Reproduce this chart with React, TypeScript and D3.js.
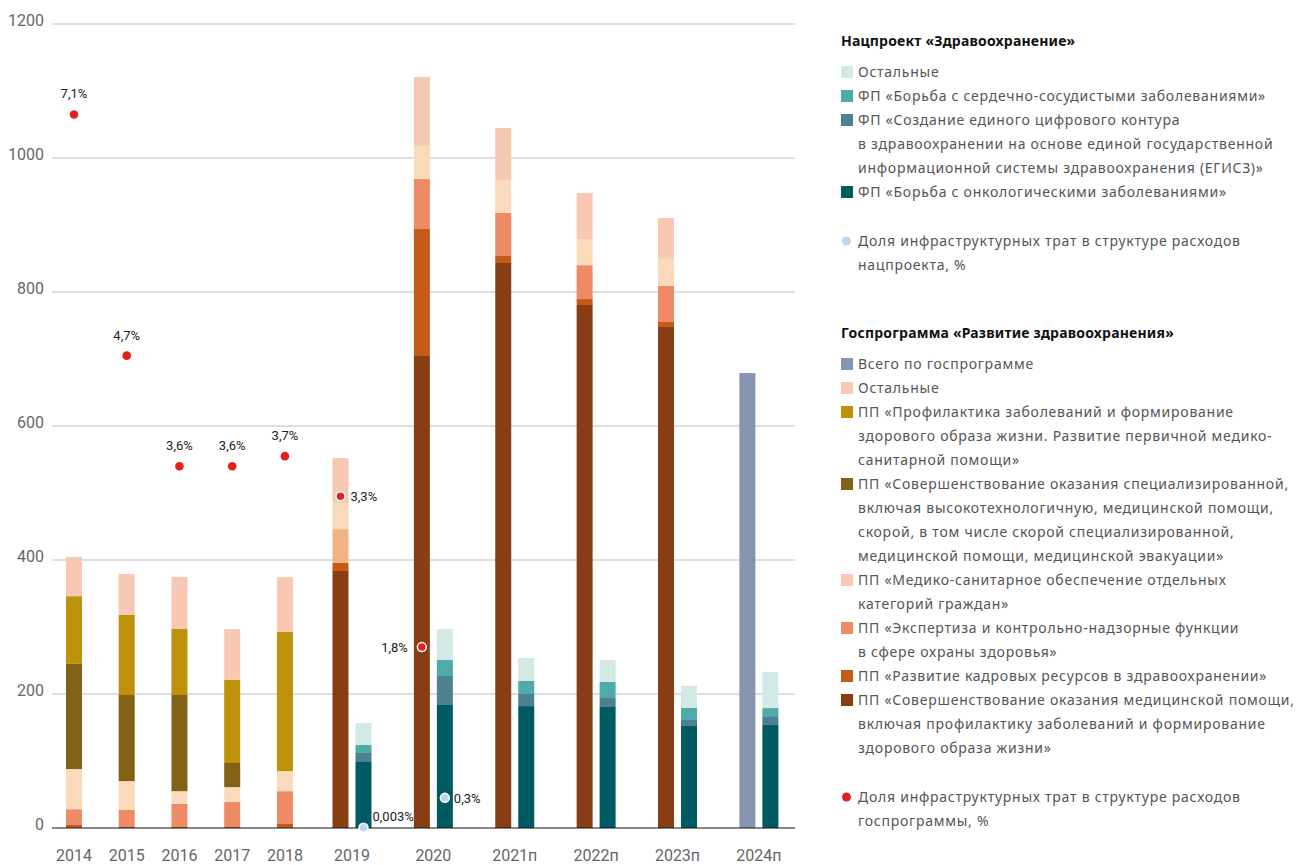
import React from "react";
import * as d3 from "d3";

// ---------- DATA ----------
const categories = ["2014", "2015", "2016", "2017", "2018", "2019", "2020", "2021п", "2022п", "2023п", "2024п"];
// whether a category has the second (нацпроект) bar
const hasNats = [false, false, false, false, false, true, true, true, true, true, true];

// Госпрограмма series, bottom to top (млрд руб.)
const gpMedPomosch = [0, 0, 0, 0, 0, 383.6, 704.5, 843.3, 780.6, 747.8, 0];
const gpKadry = [4.5, 1.5, 1.5, 1.5, 6, 12, 189.5, 10.4, 8.9, 7.4, 0];
const gpExpertiza = [23.5, 25.5, 34.5, 37.5, 49, 50.5, 74.6, 64.3, 50.5, 53.8, 0];
const gpMedSanit = [60, 43, 19, 22, 30, 39, 49.4, 49, 39, 40.6, 0];
const gpSpecPomosch = [157, 128.5, 143.5, 36, 0, 0, 0, 0, 0, 0, 0];
const gpProfilaktika = [101, 119.5, 98.5, 124, 207.5, 0, 0, 0, 0, 0, 0];
const gpOther = [58.5, 61, 77.6, 76, 82, 67, 103, 77.8, 68.7, 60.8, 0];
const gpTotal = [0, 0, 0, 0, 0, 0, 0, 0, 0, 0, 679];

// Нацпроект series, bottom to top
const npOnko = [0, 0, 0, 0, 0, 98.5, 183.6, 182, 180.6, 152.2, 153.7];
const npDigital = [0, 0, 0, 0, 0, 13.5, 43.3, 18, 13.4, 9, 12];
const npCardio = [0, 0, 0, 0, 0, 12, 23.8, 19.4, 24, 18, 13.3];
const npOther = [0, 0, 0, 0, 0, 32.7, 46.3, 34.3, 32.7, 33, 53.8];

// Shares of infrastructure spending, %
const gpInfraPct = [7.1, 4.7, 3.6, 3.6, 3.7, 3.3, 1.8, null, null, null, null];
const npInfraPct = [null, null, null, null, null, 0.003, 0.3, null, null, null, null];

const yTicks = [0, 200, 400, 600, 800, 1000, 1200];

// ---------- STYLE ----------
const gpSeries = [
  { key: "medPomosch", values: gpMedPomosch, color: "#873e15" },
  { key: "kadry", values: gpKadry, color: "#c55a19" },
  { key: "expertiza", values: gpExpertiza, color: "#ef8a67" },
  { key: "medSanit", values: gpMedSanit, color: "#fadabb" },
  { key: "spec", values: gpSpecPomosch, color: "#836117" },
  { key: "profil", values: gpProfilaktika, color: "#be910a" },
  { key: "other", values: gpOther, color: "#f9c8b2" },
  { key: "total", values: gpTotal, color: "#8696b0" },
];
// the 2019 "экспертиза" segment is drawn in a lighter orange in the reference
const cellColorOverride: Record<string, string> = { "expertiza|2019": "#f3b283" };

const npSeries = [
  { key: "onko", values: npOnko, color: "#005a64" },
  { key: "digital", values: npDigital, color: "#4e8190" },
  { key: "cardio", values: npCardio, color: "#4faaa8" },
  { key: "other", values: npOther, color: "#d3e9e6" },
];

const gpLabelPos = ["top", "top", "top", "top", "top", "right", "left"];
const npLabelPos = ["", "", "", "", "", "rightUp", "right"];

const legendNats = [
  { color: "#d3e9e6", lines: ["Остальные"] },
  { color: "#4faaa8", lines: ["ФП «Борьба с сердечно-сосудистыми заболеваниями»"] },
  {
    color: "#4e8190",
    lines: [
      "ФП «Создание единого цифрового контура",
      "в здравоохранении на основе единой государственной",
      "информационной системы здравоохранения (ЕГИСЗ)»",
    ],
  },
  { color: "#005a64", lines: ["ФП «Борьба с онкологическими заболеваниями»"] },
];
const legendNatsDot = { color: "#bdd7ee", lines: ["Доля инфраструктурных трат в структуре расходов", "нацпроекта, %"] };

const legendGos = [
  { color: "#8696b0", lines: ["Всего по госпрограмме"] },
  { color: "#f9c8b2", lines: ["Остальные"] },
  {
    color: "#be910a",
    lines: ["ПП «Профилактика заболеваний и формирование", "здорового образа жизни. Развитие первичной медико-", "санитарной помощи»"],
  },
  {
    color: "#836117",
    lines: [
      "ПП «Совершенствование оказания специализированной,",
      "включая высокотехнологичную, медицинской помощи,",
      "скорой, в том числе скорой специализированной,",
      "медицинской помощи, медицинской эвакуации»",
    ],
  },
  { color: "#f9c8b2", lines: ["ПП «Медико-санитарное обеспечение отдельных", "категорий граждан»"] },
  { color: "#ef8a67", lines: ["ПП «Экспертиза и контрольно-надзорные функции", "в сфере охраны здоровья»"] },
  { color: "#c55a19", lines: ["ПП «Развитие кадровых ресурсов в здравоохранении»"] },
  {
    color: "#873e15",
    lines: [
      "ПП «Совершенствование оказания медицинской помощи,",
      "включая профилактику заболеваний и формирование",
      "здорового образа жизни»",
    ],
  },
];
const legendGosDot = { color: "#e3201b", lines: ["Доля инфраструктурных трат в структуре расходов", "госпрограммы, %"] };

const W = 1306;
const H = 865;
const AXIS_FONT = "Roboto, 'Noto Sans', sans-serif";
const LEG_FONT = "'Noto Sans', 'Open Sans', sans-serif";

export default function App() {
  // y scales
  const y = d3.scaleLinear().domain([0, 1200]).range([828, 24]);
  const yPct = d3.scaleLinear().domain([0, 8]).range([828, 24]);

  // x: each category occupies a slot; double-bar slots are wider
  const slotW = hasNats.map((d) => (d ? 1.543 : 1));
  const cum = d3.cumsum(slotW);
  const total = cum[cum.length - 1];
  const xu = d3.scaleLinear().domain([0, total]).range([47.6, 47.6 + total * 52.74]);
  const center = categories.map((_, i) => xu(cum[i] - slotW[i] / 2));
  const barW = 16;
  const off = 11.5;
  const gpX = categories.map((_, i) => (hasNats[i] ? center[i] - off : center[i]));
  const npX = categories.map((_, i) => center[i] + off);

  const stackOf = (series: { key: string; values: number[] }[]) => {
    const rows = categories.map((c, i) => {
      const r: Record<string, number | string> = { cat: c };
      series.forEach((s) => (r[s.key] = s.values[i]));
      return r;
    });
    return d3.stack<any>().keys(series.map((s) => s.key))(rows as any);
  };
  const gpStack = stackOf(gpSeries);
  const npStack = stackOf(npSeries);

  const fmtPct = (v: number) => String(v).replace(".", ",") + "%";

  const legendBlock = (
    x: number,
    title: string,
    titleY: number,
    firstY: number,
    items: { color: string; lines: string[] }[],
    dot: { color: string; lines: string[] },
    dotGap: number
  ) => {
    const out: React.ReactNode[] = [];
    out.push(
      <text key={title} x={x} y={titleY + 5} fontFamily={LEG_FONT} fontWeight={700} fontSize={14} fill="#111" letterSpacing={0.2}>
        {title}
      </text>
    );
    let row = firstY;
    items.forEach((it, k) => {
      out.push(<rect key={title + "s" + k} x={x} y={row - 6} width={12} height={12} fill={it.color} />);
      it.lines.forEach((ln, j) => {
        out.push(
          <text key={title + "t" + k + "_" + j} x={x + 17} y={row + 24 * j + 5} fontFamily={LEG_FONT} fontSize={14} fill="#555" letterSpacing={0.75}>
            {ln}
          </text>
        );
      });
      row += 24 * it.lines.length;
    });
    row += dotGap;
    out.push(<circle key={title + "dot"} cx={x + 5.5} cy={row} r={4.5} fill={dot.color} />);
    dot.lines.forEach((ln, j) => {
      out.push(
        <text key={title + "dt" + j} x={x + 17} y={row + 24 * j + 5} fontFamily={LEG_FONT} fontSize={14} fill="#555" letterSpacing={0.75}>
          {ln}
        </text>
      );
    });
    return out;
  };

  return (
    <svg width={W} height={H} style={{ position: "absolute", left: 0, top: 0, background: "#fff" }}>
      {/* grid */}
      {yTicks.map((t) => (
        <g key={"g" + t}>
          {t !== 0 && <line x1={52} x2={795} y1={y(t)} y2={y(t)} stroke="#bdbdbd" strokeWidth={1.2} />}
          <text x={44} y={y(t) + 2} textAnchor="end" fontFamily={AXIS_FONT} fontSize={16} fill="#666">
            {t}
          </text>
        </g>
      ))}

      {/* госпрограмма bars */}
      {gpStack.map((layer, si) =>
        layer.map((d, i) => {
          const h = y(d[0]) - y(d[1]);
          if (h <= 0) return null;
          const key = gpSeries[si].key + "|" + categories[i];
          return (
            <rect
              key={"gp" + key}
              x={gpX[i] - barW / 2}
              y={y(d[1])}
              width={barW}
              height={h}
              fill={cellColorOverride[key] || gpSeries[si].color}
            />
          );
        })
      )}

      {/* нацпроект bars */}
      {npStack.map((layer, si) =>
        layer.map((d, i) => {
          const h = y(d[0]) - y(d[1]);
          if (h <= 0 || !hasNats[i]) return null;
          return (
            <rect key={"np" + si + "_" + i} x={npX[i] - barW / 2} y={y(d[1])} width={barW} height={h} fill={npSeries[si].color} />
          );
        })
      )}

      {/* zero axis */}
      <line x1={52} x2={795} y1={y(0)} y2={y(0)} stroke="#111" strokeWidth={1.2} />

      {/* x labels */}
      {categories.map((c, i) => (
        <text key={"x" + c} x={center[i]} y={861} textAnchor="middle" fontFamily={AXIS_FONT} fontSize={16} fill="#666">
          {c}
        </text>
      ))}

      {/* госпрограмма infra share dots */}
      {gpInfraPct.map((v, i) => {
        if (v == null) return null;
        const cx = gpX[i];
        const cy = yPct(v);
        const pos = gpLabelPos[i];
        const onBar = hasNats[i];
        let lx = cx,
          ly = cy - 16,
          anchor: "middle" | "start" | "end" = "middle";
        if (pos === "right") {
          lx = cx + 10;
          ly = cy + 5;
          anchor = "start";
        } else if (pos === "left") {
          lx = cx - 14;
          ly = cy + 5;
          anchor = "end";
        }
        return (
          <g key={"gd" + i}>
            <circle cx={cx} cy={cy} r={onBar ? 4.5 : 4.3} fill="#e3201b" stroke={onBar ? "#fff" : "none"} strokeWidth={1.5} />
            <text x={lx} y={ly} textAnchor={anchor} fontFamily={AXIS_FONT} fontSize={13} fill="#222">
              {fmtPct(v)}
            </text>
          </g>
        );
      })}

      {/* нацпроект infra share dots */}
      {npInfraPct.map((v, i) => {
        if (v == null) return null;
        const cx = npX[i];
        const cy = yPct(v);
        const pos = npLabelPos[i];
        const lx = cx + 9;
        const ly = pos === "rightUp" ? cy - 7 : cy + 5;
        return (
          <g key={"nd" + i}>
            <circle cx={cx} cy={cy} r={4.5} fill="#bdd7ee" stroke="#fff" strokeWidth={1.5} />
            <text x={lx} y={ly} fontFamily={AXIS_FONT} fontSize={13} fill="#222">
              {fmtPct(v)}
            </text>
          </g>
        );
      })}

      {/* legends */}
      {legendBlock(841, "Нацпроект «Здравоохранение»", 41, 72, legendNats, legendNatsDot, 25)}
      {legendBlock(841, "Госпрограмма «Развитие здравоохранения»", 333, 364, legendGos, legendGosDot, 25)}
    </svg>
  );
}
